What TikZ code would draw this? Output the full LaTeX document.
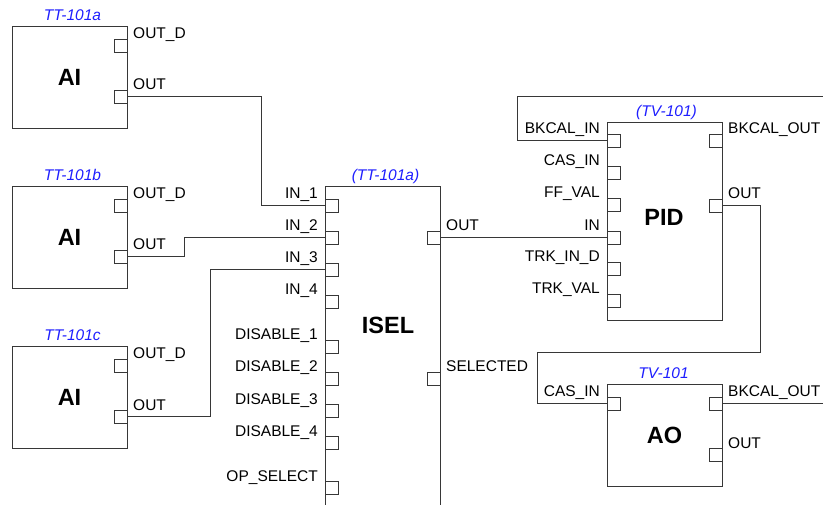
\documentclass[tikz,border=0pt]{standalone}
\usepackage{fontspec}
\setmainfont{Liberation Sans}
\usepackage{xcolor}
\usepackage{tikz}

\definecolor{tagblue}{RGB}{30,30,255}
\definecolor{wiregray}{RGB}{55,55,55}
\newcommand{\labfont}{\fontsize{15.5}{18}\selectfont}
\newcommand{\blockfont}{\fontsize{23.5}{28}\selectfont\bfseries}

\tikzset{
  fblock/.style={draw=wiregray, line width=0.9pt, inner sep=0pt, outer sep=0pt,
    minimum width=115pt, font=\blockfont},
  port/.style={draw=wiregray, line width=0.9pt, minimum size=13pt, inner sep=0pt, outer sep=0pt},
  lablft/.style={anchor=base east, inner sep=0pt, font=\labfont},
  labrgt/.style={anchor=base west, inner sep=0pt, font=\labfont},
  tag/.style={anchor=base, inner sep=0pt, text=tagblue, font=\labfont\itshape},
  wire/.style={draw=wiregray, line width=0.9pt}
}

\begin{document}
\begin{tikzpicture}[x=1pt,y=-1pt]
\useasboundingbox (0,0) rectangle (823,505);
\clip (0,0) rectangle (823,505);

% analog input blocks
\node[fblock, minimum height=102pt] (aia) at (69.5,77) {AI};
\node[tag] (aia-tag) at ([xshift=3pt,yshift=5.5pt]aia.north) {TT-101a};
\node[port] (aia-outd) at (120.5,45.5) {};
\node[port] (aia-out) at (120.5,96.5) {};
\node[labrgt] at ([xshift=6pt]aia-outd.north east) {OUT\_D};
\node[labrgt] at ([xshift=6pt]aia-out.north east) {OUT};

\node[fblock, minimum height=102pt] (aib) at (69.5,237) {AI};
\node[tag] (aib-tag) at ([xshift=3pt,yshift=5.5pt]aib.north) {TT-101b};
\node[port] (aib-outd) at (120.5,205.5) {};
\node[port] (aib-out) at (120.5,256.5) {};
\node[labrgt] at ([xshift=6pt]aib-outd.north east) {OUT\_D};
\node[labrgt] at ([xshift=6pt]aib-out.north east) {OUT};

\node[fblock, minimum height=102pt] (aic) at (69.5,397) {AI};
\node[tag] (aic-tag) at ([xshift=3pt,yshift=5.5pt]aic.north) {TT-101c};
\node[port] (aic-outd) at (120.5,365.5) {};
\node[port] (aic-out) at (120.5,416.5) {};
\node[labrgt] at ([xshift=6pt]aic-outd.north east) {OUT\_D};
\node[labrgt] at ([xshift=6pt]aic-out.north east) {OUT};

% input selector
\node[fblock, minimum height=344pt] (isel) at (382.5,358) {};
\node[font=\blockfont] (isel-title) at (388,325) {ISEL};
\node[tag] (isel-tag) at ([xshift=3pt,yshift=5.5pt]isel.north) {(TT-101a)};
\node[port] (isel-in1) at (331.5,205.5) {};
\node[port] (isel-in2) at (331.5,237.5) {};
\node[port] (isel-in3) at (331.5,269.5) {};
\node[port] (isel-in4) at (331.5,301.5) {};
\node[port] (isel-dis1) at (331.5,346.5) {};
\node[port] (isel-dis2) at (331.5,378.5) {};
\node[port] (isel-dis3) at (331.5,410.5) {};
\node[port] (isel-dis4) at (331.5,442.5) {};
\node[port] (isel-opsel) at (331.5,487.5) {};
\node[port] (isel-out) at (433.5,237.5) {};
\node[port] (isel-sel) at (433.5,378.5) {};
\node[lablft] at ([xshift=-7pt]isel-in1.north west) {IN\_1};
\node[lablft] at ([xshift=-7pt]isel-in2.north west) {IN\_2};
\node[lablft] at ([xshift=-7pt]isel-in3.north west) {IN\_3};
\node[lablft] at ([xshift=-7pt]isel-in4.north west) {IN\_4};
\node[lablft] at ([xshift=-7pt]isel-dis1.north west) {DISABLE\_1};
\node[lablft] at ([xshift=-7pt]isel-dis2.north west) {DISABLE\_2};
\node[lablft] at ([xshift=-7pt]isel-dis3.north west) {DISABLE\_3};
\node[lablft] at ([xshift=-7pt]isel-dis4.north west) {DISABLE\_4};
\node[lablft] at ([xshift=-7pt]isel-opsel.north west) {OP\_SELECT};
\node[labrgt] at ([xshift=6pt]isel-out.north east) {OUT};
\node[labrgt] at ([xshift=6pt]isel-sel.north east) {SELECTED};

% PID controller
\node[fblock, minimum height=198pt] (pid) at (664.5,221) {};
\node[font=\blockfont] (pid-title) at (664,217) {PID};
\node[tag] (pid-tag) at ([xshift=2pt,yshift=5.5pt]pid.north) {(TV-101)};
\node[port] (pid-bkin) at (613.5,140.5) {};
\node[port] (pid-casin) at (613.5,172.5) {};
\node[port] (pid-ffval) at (613.5,204.5) {};
\node[port] (pid-in) at (613.5,237.5) {};
\node[port] (pid-trkind) at (613.5,268.5) {};
\node[port] (pid-trkval) at (613.5,300.5) {};
\node[port] (pid-bkout) at (715.5,140.5) {};
\node[port] (pid-out) at (715.5,205.5) {};
\node[lablft] at ([xshift=-7pt]pid-bkin.north west) {BKCAL\_IN};
\node[lablft] at ([xshift=-7pt]pid-casin.north west) {CAS\_IN};
\node[lablft] at ([xshift=-7pt]pid-ffval.north west) {FF\_VAL};
\node[lablft] at ([xshift=-7pt]pid-in.north west) {IN};
\node[lablft] at ([xshift=-7pt]pid-trkind.north west) {TRK\_IN\_D};
\node[lablft] at ([xshift=-7pt]pid-trkval.north west) {TRK\_VAL};
\node[labrgt] at ([xshift=6pt]pid-bkout.north east) {BKCAL\_OUT};
\node[labrgt] at ([xshift=6pt]pid-out.north east) {OUT};

% analog output
\node[fblock, minimum height=102pt] (ao) at (664.5,435) {AO};
\node[tag] (ao-tag) at ([xshift=-1pt,yshift=5.5pt]ao.north) {TV-101};
\node[port] (ao-casin) at (613.5,403.5) {};
\node[port] (ao-bkout) at (715.5,403.5) {};
\node[port] (ao-out) at (715.5,454.5) {};
\node[lablft] at ([xshift=-7pt]ao-casin.north west) {CAS\_IN};
\node[labrgt] at ([xshift=6pt]ao-bkout.north east) {BKCAL\_OUT};
\node[labrgt] at ([xshift=6pt]ao-out.north east) {OUT};

% wiring
\coordinate (bkcal-off) at (823,96);
\coordinate (aobk-off) at (823,403.5);
\draw[wire] (aia-out.east) -| (261,205.5) -- (isel-in1.west);
\draw[wire] (aib-out.east) -| (184,237.5) -- (isel-in2.west);
\draw[wire] (aic-out.east) -| (210,269.5) -- (isel-in3.west);
\draw[wire] (isel-out.east) -- (pid-in.west);
\draw[wire] (pid-bkin.west) -| (517,96) -- (bkcal-off);
\draw[wire] (pid-out.east) -| (760,352) -- (537,352) |- (ao-casin.west);
\draw[wire] (ao-bkout.east) -- (aobk-off);
\end{tikzpicture}
\end{document}
